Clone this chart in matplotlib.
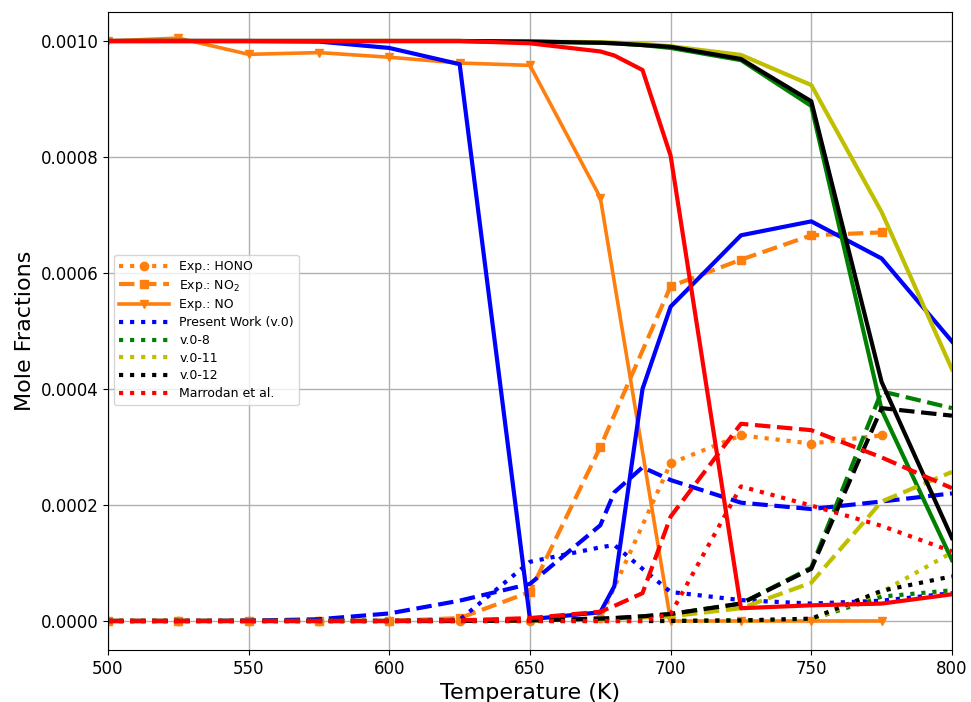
import matplotlib
matplotlib.use("Agg")
import matplotlib.pyplot as plt

# Experimental data
T_exp = [500, 525, 550, 575, 600, 625, 650, 675, 700, 725, 750, 775]
exp_hono = [0, 0, 0, 0, 0, 0, 0, 0.000005, 0.000272, 0.00032, 0.000306, 0.00032]
exp_no2 = [0, 0, 0, 0, 0, 0.000005, 0.00005, 0.0003, 0.000577, 0.000623, 0.000665, 0.00067]
exp_no = [0.001, 0.001005, 0.000977, 0.00098, 0.000972, 0.000962, 0.000958, 0.00073, 0.0, 0.0, 0.0, 0.0]

# Model grid
T_mod = [500, 525, 550, 575, 600, 625, 650, 675, 680, 690, 700, 725, 750, 775, 800]

# Present Work (v.0)
v0_no = [0.001, 0.001, 0.001, 0.000999, 0.000988, 0.00096, 0.000003, 0.000015, 0.00006, 0.0004, 0.000542, 0.000665, 0.000689, 0.000625, 0.000482]
v0_no2 = [0, 0, 0.0000005, 0.000003, 0.000013, 0.000035, 0.000064, 0.000165, 0.000222, 0.000265, 0.000243, 0.000204, 0.000193, 0.000206, 0.00022]
v0_hono = [0, 0, 0, 0, 0, 0.000002, 0.000102, 0.000127, 0.000131, 0.00009, 0.00005, 0.000036, 0.00003, 0.000035, 0.000048]

# v.0-8
v8_no = [0.001, 0.001, 0.001, 0.001, 0.001, 0.001, 0.000999, 0.000997, 0.000996, 0.000993, 0.000988, 0.000967, 0.000888, 0.000364, 0.000105]
v8_no2 = [0, 0, 0, 0, 0, 0, 0.000001, 0.000004, 0.000005, 0.000008, 0.000012, 0.00003, 0.000092, 0.000396, 0.000367]
v8_hono = [0, 0, 0, 0, 0, 0, 0, 0, 0, 0, 0, 0.000001, 0.000003, 0.000042, 0.000053]

# v.0-11
v11_no = [0.001, 0.001, 0.001, 0.001, 0.001, 0.001, 0.000999, 0.000998, 0.000997, 0.000995, 0.000991, 0.000976, 0.000924, 0.000705, 0.000434]
v11_no2 = [0, 0, 0, 0, 0, 0, 0.000001, 0.000003, 0.000004, 0.000006, 0.000008, 0.000022, 0.000066, 0.000206, 0.000257]
v11_hono = [0, 0, 0, 0, 0, 0, 0, 0, 0, 0, 0, 0.000001, 0.000002, 0.00005, 0.000118]

# v.0-12
v12_no = [0.001, 0.001, 0.001, 0.001, 0.001, 0.001, 0.000999, 0.000997, 0.000996, 0.000993, 0.00099, 0.000969, 0.000896, 0.000412, 0.000143]
v12_no2 = [0, 0, 0, 0, 0, 0, 0.000001, 0.000004, 0.000005, 0.000008, 0.000012, 0.00003, 0.00009, 0.000367, 0.000354]
v12_hono = [0, 0, 0, 0, 0, 0, 0, 0, 0, 0, 0, 0.000001, 0.000004, 0.000052, 0.000077]

# Marrodan et al.
mar_no = [0.001, 0.001, 0.001, 0.001, 0.001, 0.001, 0.000996, 0.000982, 0.000975, 0.00095, 0.000802, 0.000022, 0.000027, 0.00003, 0.000046]
mar_no2 = [0, 0, 0, 0, 0, 0.000001, 0.000005, 0.000016, 0.000026, 0.000048, 0.00018, 0.00034, 0.000329, 0.000282, 0.000229]
mar_hono = [0, 0, 0, 0, 0, 0, 0, 0, 0, 0, 0.000012, 0.000232, 0.000199, 0.000164, 0.00012]

fig = plt.figure(figsize=(9.71, 7.02), dpi=100)
ax = fig.add_axes([0.1112, 0.0741, 0.8692, 0.9088])

orange = 'tab:orange'
ax.plot(T_exp, exp_hono, ':', color=orange, lw=3, marker='o', ms=6, label='Exp.: HONO')
ax.plot(T_exp, exp_no2, '--', color=orange, lw=3, marker='s', ms=6, label='Exp.: NO$_2$')
ax.plot(T_exp, exp_no, '-', color=orange, lw=2.6, marker='v', ms=6, label='Exp.: NO')

models = [
    (v0_no, v0_no2, v0_hono, 'b', 'Present Work (v.0)'),
    (v8_no, v8_no2, v8_hono, 'g', 'v.0-8'),
    (v11_no, v11_no2, v11_hono, 'y', 'v.0-11'),
    (v12_no, v12_no2, v12_hono, 'k', 'v.0-12'),
    (mar_no, mar_no2, mar_hono, 'r', 'Marrodan et al.'),
]
for no, no2, hono, c, lab in models:
    ax.plot(T_mod, no, '-', color=c, lw=3)
    ax.plot(T_mod, no2, '--', color=c, lw=3)
    ax.plot(T_mod, hono, ':', color=c, lw=3, label=lab)

ax.set_xlim(500, 800)
ax.set_ylim(-0.00005, 0.00105)
ax.grid(True, color='#b0b0b0', lw=1)
ax.set_xlabel('Temperature (K)', fontsize=16)
ax.set_ylabel('Mole Fractions', fontsize=16)
ax.tick_params(labelsize=12)
ax.yaxis.set_major_formatter(matplotlib.ticker.FormatStrFormatter('%.4f'))
ax.legend(loc='upper left', bbox_to_anchor=(0.0, 0.629), fontsize=9, handlelength=4,
          labelspacing=0.38)

fig.savefig('out.png', dpi=100)
